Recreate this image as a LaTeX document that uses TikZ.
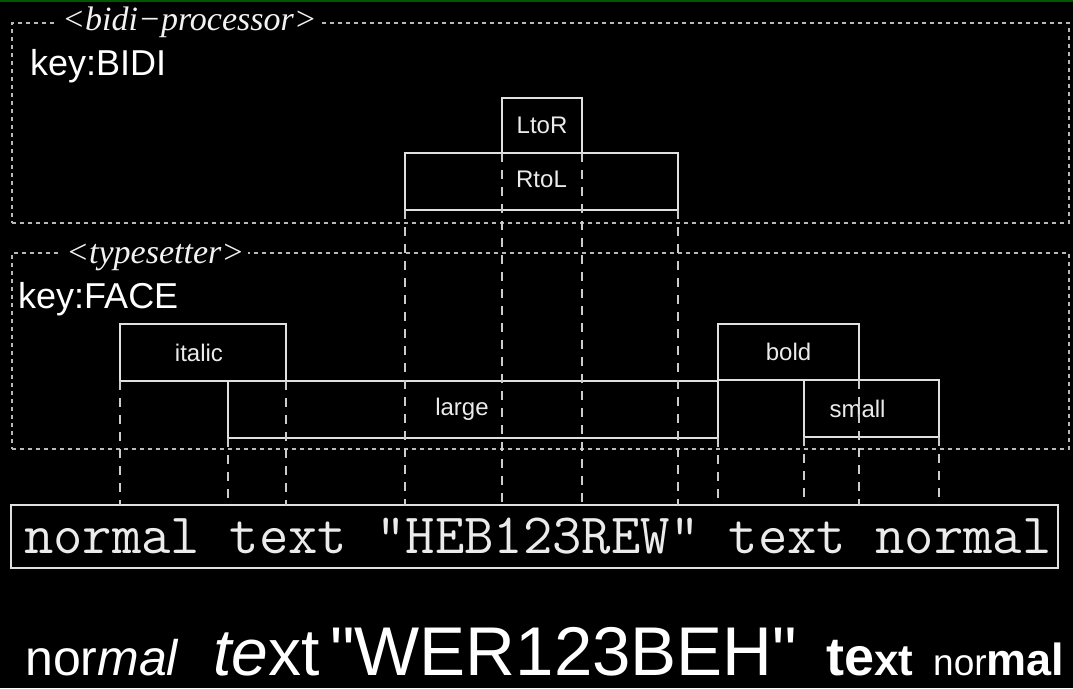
\documentclass[tikz,border=0pt]{standalone}
\usepackage{fontspec}
\setmainfont{Liberation Sans}[Ligatures=TeXOff]
\newfontfamily\serifit{Liberation Serif}
\newcommand{\fsz}[1]{\fontsize{#1}{#1}\selectfont}
\tikzset{
  frame/.style={draw=white!72!black, line width=1.3pt, dash pattern=on 4pt off 4pt,
    inner sep=0pt, outer sep=0pt, anchor=north west},
  box/.style={draw=white!88!black, line width=2.2pt, inner sep=0pt, outer sep=0pt, anchor=north west},
  guide/.style={draw=white!80!black, line width=1.5pt, dash pattern=on 9pt off 8pt},
  lbl/.style={text=white!92!black, font=\fsz{24}, inner sep=0pt},
  keylbl/.style={text=white, font=\fsz{36}, anchor=base west, inner sep=0pt},
  ttl/.style={text=white!95!black, font=\serifit\itshape\fsz{34}, fill=black,
    inner xsep=4pt, inner ysep=0pt, anchor=base west},
  btm/.style={text=white, anchor=base west, inner sep=0pt}
}
\begin{document}
\begin{tikzpicture}[x=1pt,y=-1pt]
\fill[black] (0,0) rectangle (1073,688);
\useasboundingbox (0,0) rectangle (1073,688);
\fill[green!35!black] (0,0) rectangle (1073,2);

% frames
\node[frame, minimum width=1057pt, minimum height=200pt] (bidiframe) at (12,23) {};
\node[frame, minimum width=1057pt, minimum height=196pt] (typeframe) at (12,253) {};
\node[ttl] (bidititle) at (58,30) {<bidi−processor>};
\node[ttl] (typetitle) at (62,263) {<typesetter>};
\node[keylbl] (keybidi) at (30,75) {key:BIDI};
\node[keylbl] (keyface) at (18,308) {key:FACE};

% boxes
\node[box, minimum width=80pt, minimum height=55pt] (ltor) at (502,98) {};
\node[box, minimum width=273pt, minimum height=57pt] (rtol) at (405,153) {};
\node[box, minimum width=166pt, minimum height=57pt] (italic) at (120,324) {};
\node[box, minimum width=490pt, minimum height=57pt] (large) at (228,381) {};
\node[box, minimum width=141pt, minimum height=56pt] (bold) at (718,324) {};
\node[box, minimum width=135pt, minimum height=57pt] (small) at (804,380) {};
\node[box, minimum width=1047pt, minimum height=63pt] (line) at (11,505) {};

% labels
\node[lbl] (ltorlbl) at (ltor.center) {LtoR};
\node[lbl] (rtollbl) at ([yshift=2pt]rtol.center) {RtoL};
\node[lbl] (italiclbl) at ([xshift=-4pt]italic.center) {italic};
\node[lbl] (largelbl) at ([xshift=-11pt]large.center) {large};
\node[lbl] (boldlbl) at (bold.center) {bold};
\node[lbl] (smalllbl) at ([xshift=-14pt]small.center) {small};

% guides
\foreach \p in {italic.south west, italic.south east, large.south west,
  rtol.south west, ltor.south west, ltor.south east, rtol.south east,
  large.south east, small.south west, bold.south east, small.south east}
  \draw[guide] (\p) -- (\p |- line.north);

% text line
\node[anchor=base west, font=\ttfamily\fsz{57}, text=white!92!black, inner sep=0pt]
  (linetext) at (24,553) {normal text "HEB123REW" text normal};

% rendered result
\node[btm, font=\fsz{50}] (w1) at (25,675) {nor\itshape mal};
\node[btm, font=\fsz{66}] (w2) at (213,675) {\itshape te\upshape xt};
\node[btm, font=\fsz{69}] (w3) at (330,675) {"WER123BEH"};
\node[btm] (w4) at (826,675) {{\bfseries\fsz{54}te}{\bfseries\fsz{44}xt}};
\node[btm] (w5) at (933,675) {{\fsz{37}nor}{\bfseries\fsz{45}mal}};
\end{tikzpicture}
\end{document}
